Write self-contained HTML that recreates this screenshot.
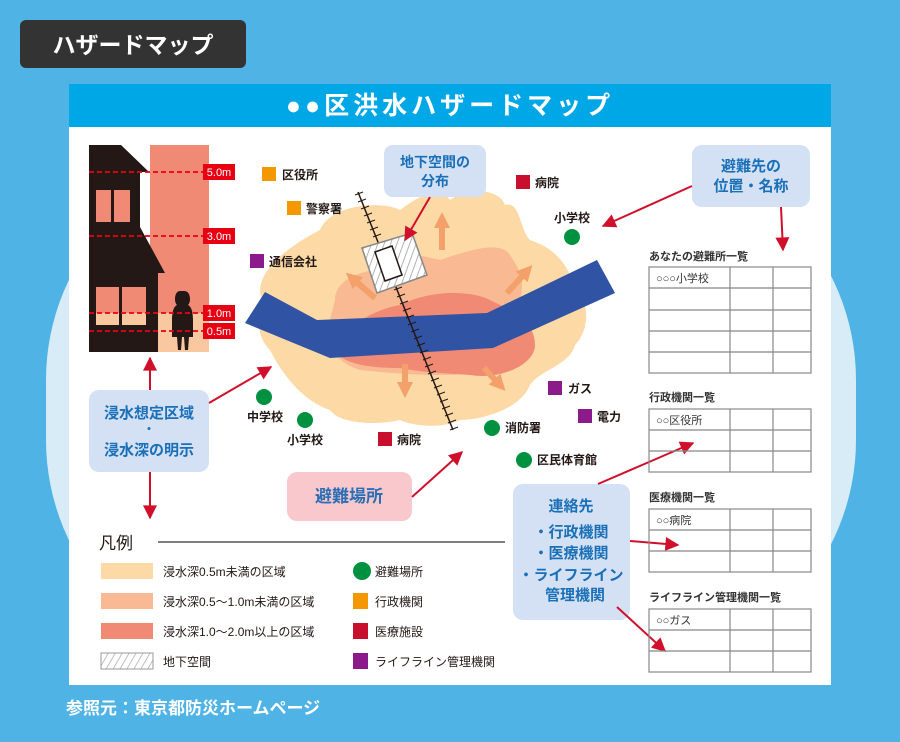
<!DOCTYPE html>
<html><head><meta charset="utf-8"><style>
html,body{margin:0;padding:0;}
body{width:900px;height:737px;overflow:hidden;background:#4fb3e6;font-family:"Liberation Sans","Noto Sans CJK JP",sans-serif;}
svg text{font-family:"Liberation Sans","Noto Sans CJK JP",sans-serif;}
</style></head><body>
<svg width="900" height="737" viewBox="0 0 900 737" xmlns="http://www.w3.org/2000/svg">
<defs>
<marker id="ar" markerWidth="8" markerHeight="8" refX="6" refY="4" orient="auto" markerUnits="userSpaceOnUse"><path d="M0,0 L8,4 L0,8 z" fill="#d0102b" transform="scale(1)"/></marker>
<marker id="ra" viewBox="0 0 10 10" markerWidth="16" markerHeight="14" refX="9" refY="5" orient="auto" markerUnits="userSpaceOnUse"><path d="M0,0 L10,5 L0,10 z" fill="#d0102b"/></marker>
<marker id="oa" viewBox="0 0 10 10" markerWidth="16" markerHeight="16" refX="5" refY="5" orient="auto" markerUnits="userSpaceOnUse"><path d="M0,0 L10,5 L0,10 z" fill="#f4a06a"/></marker>
<pattern id="hatch" width="6" height="6" patternUnits="userSpaceOnUse" patternTransform="rotate(20)"><rect width="6" height="6" fill="#fff"/><line x1="0" y1="0" x2="0" y2="6" stroke="#999" stroke-width="1.5"/></pattern>
<pattern id="hatch2" width="6" height="6" patternUnits="userSpaceOnUse" patternTransform="rotate(30)"><rect width="6" height="6" fill="#fff"/><line x1="0" y1="0" x2="0" y2="6" stroke="#aaa" stroke-width="1.5"/></pattern>
</defs>
<!-- pale background shape -->
<rect x="46" y="150" width="810" height="520" rx="230" fill="#d7ecf7"/>
<!-- tag -->
<rect x="20" y="20" width="226" height="48" rx="6" fill="#333"/>
<text x="133" y="53" font-size="23" font-weight="bold" fill="#fff" text-anchor="middle">ハザードマップ</text>
<!-- card -->
<rect x="69" y="84" width="762" height="601" fill="#fff"/>
<rect x="69" y="84" width="762" height="43" fill="#00a7e6"/>
<text x="450" y="114" font-size="25" font-weight="bold" fill="#fff" text-anchor="middle" letter-spacing="4">●●区洪水ハザードマップ</text>

<!-- house -->
<rect x="150" y="145" width="59" height="207" fill="#f08a74"/>
<rect x="158" y="313" width="51" height="39" fill="#f9c8a0"/>
<path d="M89,145 L121,145 L149,172 L140,172 L140,227 L165,273 L158,273 L158,352 L89,352 z" fill="#231815"/>
<rect x="96" y="190" width="15" height="32" fill="#f08a74"/><rect x="114" y="190" width="16" height="32" fill="#f08a74"/>
<rect x="96" y="287" width="23" height="26" fill="#f08a74"/><rect x="122" y="287" width="24" height="26" fill="#f08a74"/>
<rect x="96" y="313" width="23" height="12" fill="#f9c8a0"/><rect x="122" y="313" width="24" height="12" fill="#f9c8a0"/>
<path d="M180,291 c-4,0 -5,5 -5,8 c0,3 1,5 2,6 c-4,2 -5,8 -5,16 l0,16 l5,0 l1,13 l3,0 l1,-13 l2,0 l1,13 l3,0 l1,-13 l4,0 l0,-16 c0,-8 -1,-14 -5,-16 c1,-1 2,-3 2,-6 c0,-3 -1,-8 -6,-8z" fill="#231815"/>
<g stroke="#e60012" stroke-width="1.8" stroke-dasharray="5,3">
<line x1="89" y1="172" x2="204" y2="172"/><line x1="89" y1="236" x2="204" y2="236"/><line x1="89" y1="313" x2="204" y2="313"/><line x1="89" y1="331" x2="204" y2="331"/></g>
<g fill="#e60012"><rect x="203" y="164" width="32" height="16"/><rect x="203" y="228" width="32" height="16"/><rect x="203" y="305" width="32" height="16"/><rect x="203" y="323" width="32" height="16"/></g>
<g fill="#fff" font-size="11" text-anchor="middle"><text x="219" y="176">5.0m</text><text x="219" y="240">3.0m</text><text x="219" y="317">1.0m</text><text x="219" y="335">0.5m</text></g>

<!-- blob -->
<path d="M262,300 C250,270 300,240 320,230 C330,205 380,200 400,210 C420,195 440,185 450,200 C470,185 500,190 505,205 C520,200 520,230 530,240 C560,250 570,270 575,290 C590,300 590,330 575,345 C570,365 540,370 530,385 C520,410 480,420 460,420 C440,430 410,425 400,420 C380,425 340,425 330,410 C300,400 280,370 270,350 C255,335 258,315 262,300z" fill="#fdd9a6"/>
<path d="M335,300 C335,280 360,272 375,270 C400,250 420,255 440,260 C470,250 500,240 510,255 C520,270 525,280 520,300 C530,320 525,345 510,360 C480,375 460,375 440,375 C410,375 380,372 360,370 C330,360 325,340 330,320z" fill="#f8b993"/>
<path d="M330,345 C345,330 370,310 400,305 C430,290 470,290 490,300 C510,310 535,320 535,345 C535,365 500,380 470,375 C440,373 420,372 400,368 C370,368 340,365 330,345z" fill="#f08a74"/>
<!-- river -->
<path d="M245,323 L265,292 L317,320 L487,313 L597,260 L615,293 L493,348 L330,358 z" fill="#3153a4"/>
<!-- orange arrows -->
<g stroke="#f4a06a" stroke-width="6" marker-end="url(#oa)">
<line x1="442" y1="250" x2="442" y2="220"/><line x1="375" y1="298" x2="352" y2="278"/><line x1="507" y1="293" x2="527" y2="271"/><line x1="405" y1="364" x2="405" y2="390"/><line x1="484" y1="368" x2="500" y2="385"/></g>
<!-- railroad -->
<line x1="358" y1="192" x2="453" y2="430" stroke="#231815" stroke-width="1.5"/>
<g stroke="#231815" stroke-width="1">
<path id="ticks" d=""/>
</g>
<g stroke="#231815" stroke-width="1">
<line x1="355" y1="195" x2="363" y2="192"/><line x1="358" y1="202" x2="366" y2="199"/><line x1="361" y1="209" x2="369" y2="206"/><line x1="364" y1="216" x2="372" y2="213"/><line x1="367" y1="223" x2="375" y2="220"/><line x1="370" y1="230" x2="378" y2="227"/><line x1="373" y1="237" x2="381" y2="234"/>
<line x1="394" y1="290" x2="402" y2="287"/><line x1="397" y1="297" x2="405" y2="294"/><line x1="400" y1="304" x2="408" y2="301"/><line x1="403" y1="311" x2="411" y2="308"/><line x1="406" y1="318" x2="414" y2="315"/><line x1="408" y1="325" x2="416" y2="322"/><line x1="411" y1="332" x2="419" y2="329"/><line x1="414" y1="339" x2="422" y2="336"/><line x1="417" y1="346" x2="425" y2="343"/><line x1="420" y1="353" x2="428" y2="350"/><line x1="423" y1="360" x2="431" y2="357"/><line x1="425" y1="367" x2="433" y2="364"/><line x1="428" y1="374" x2="436" y2="371"/><line x1="431" y1="381" x2="439" y2="378"/><line x1="434" y1="388" x2="442" y2="385"/><line x1="437" y1="395" x2="445" y2="392"/><line x1="440" y1="402" x2="448" y2="399"/><line x1="442" y1="409" x2="450" y2="406"/><line x1="445" y1="416" x2="453" y2="413"/><line x1="448" y1="423" x2="456" y2="420"/><line x1="450" y1="430" x2="458" y2="427"/>
</g>
<polygon points="362,248 412,233 427,275 377,293" fill="url(#hatch)" stroke="#888" stroke-width="1.5"/>
<polygon points="375,252 392,246 402,275 385,281" fill="#fff" stroke="#231815" stroke-width="1.5"/>

<!-- markers -->
<g font-size="12" fill="#231815" font-weight="bold">
<rect x="262" y="167" width="14" height="14" fill="#f39800"/><text x="282" y="179">区役所</text>
<rect x="287" y="201" width="14" height="14" fill="#f39800"/><text x="306" y="213">警察署</text>
<rect x="250" y="254" width="14" height="14" fill="#8b1a8b"/><text x="269" y="266">通信会社</text>
<rect x="516" y="175" width="14" height="14" fill="#c8102e"/><text x="535" y="187">病院</text>
<text x="572" y="222" text-anchor="middle">小学校</text><circle cx="572" cy="237" r="8" fill="#009140"/>
<circle cx="264" cy="397" r="8" fill="#009140"/><text x="265" y="421" text-anchor="middle">中学校</text>
<circle cx="305" cy="420" r="8" fill="#009140"/><text x="305" y="444" text-anchor="middle">小学校</text>
<rect x="378" y="432" width="14" height="14" fill="#c8102e"/><text x="397" y="444">病院</text>
<circle cx="492" cy="428" r="8" fill="#009140"/><text x="505" y="432">消防署</text>
<rect x="548" y="381" width="14" height="14" fill="#8b1a8b"/><text x="568" y="393">ガス</text>
<rect x="578" y="409" width="14" height="14" fill="#8b1a8b"/><text x="597" y="421">電力</text>
<circle cx="524" cy="460" r="8" fill="#009140"/><text x="537" y="464">区民体育館</text>
</g>

<!-- bubbles -->
<g font-weight="bold" fill="#1a70b8" text-anchor="middle">
<rect x="384" y="145" width="102" height="52" rx="9" fill="#d4e0f3"/>
<text x="435" y="167" font-size="14">地下空間の</text><text x="435" y="186" font-size="14">分布</text>
<rect x="692" y="145" width="118" height="62" rx="10" fill="#d4e0f3"/>
<text x="751" y="171" font-size="15">避難先の</text><text x="751" y="191" font-size="15">位置・名称</text>
<rect x="89" y="390" width="120" height="82" rx="10" fill="#d4e0f3"/>
<text x="149" y="418" font-size="15">浸水想定区域</text><text x="149" y="433" font-size="12">・</text><text x="149" y="455" font-size="15">浸水深の明示</text>
<rect x="287" y="472" width="125" height="49" rx="10" fill="#f8c8cc"/>
<text x="349" y="502" font-size="17" fill="#2a6fb5">避難場所</text>
<rect x="513" y="484" width="117" height="136" rx="10" fill="#d4e0f3"/>
<text x="571" y="511" font-size="15">連絡先</text>
<text x="571" y="537" font-size="15">・行政機関</text>
<text x="571" y="558" font-size="15">・医療機関</text>
<text x="571" y="580" font-size="15">・ライフライン</text>
<text x="575" y="600" font-size="15">管理機関</text>
</g>

<!-- red arrows -->
<g stroke="#d0102b" stroke-width="2" marker-end="url(#ra)" fill="none">
<line x1="430" y1="197" x2="405" y2="240"/>
<line x1="692" y1="186" x2="603" y2="226"/>
<line x1="781" y1="207" x2="783" y2="250"/>
<line x1="150" y1="390" x2="150" y2="358"/>
<line x1="150" y1="472" x2="150" y2="518"/>
<line x1="209" y1="403" x2="271" y2="367"/>
<line x1="412" y1="497" x2="462" y2="452"/>
<line x1="598" y1="484" x2="693" y2="443"/>
<line x1="630" y1="541" x2="678" y2="545"/>
<line x1="617" y1="607" x2="665" y2="651"/>
</g>

<!-- tables -->
<g fill="none" stroke="#888" stroke-width="1.2">
<rect x="649" y="267" width="162" height="106"/>
<line x1="649" y1="288" x2="811" y2="288"/><line x1="649" y1="310" x2="811" y2="310"/><line x1="649" y1="331" x2="811" y2="331"/><line x1="649" y1="352" x2="811" y2="352"/>
<line x1="730" y1="267" x2="730" y2="373"/><line x1="773" y1="267" x2="773" y2="373"/>
<rect x="649" y="409" width="162" height="63"/>
<line x1="649" y1="430" x2="811" y2="430"/><line x1="649" y1="451" x2="811" y2="451"/>
<line x1="730" y1="409" x2="730" y2="472"/><line x1="773" y1="409" x2="773" y2="472"/>
<rect x="649" y="509" width="162" height="63"/>
<line x1="649" y1="530" x2="811" y2="530"/><line x1="649" y1="551" x2="811" y2="551"/>
<line x1="730" y1="509" x2="730" y2="572"/><line x1="773" y1="509" x2="773" y2="572"/>
<rect x="649" y="609" width="162" height="63"/>
<line x1="649" y1="630" x2="811" y2="630"/><line x1="649" y1="651" x2="811" y2="651"/>
<line x1="730" y1="609" x2="730" y2="672"/><line x1="773" y1="609" x2="773" y2="672"/>
</g>
<g font-size="11" fill="#333">
<text x="649" y="260" font-weight="bold">あなたの避難所一覧</text><text x="656" y="282">○○○小学校</text>
<text x="649" y="401" font-weight="bold">行政機関一覧</text><text x="656" y="424">○○区役所</text>
<text x="649" y="501" font-weight="bold">医療機関一覧</text><text x="656" y="524">○○病院</text>
<text x="649" y="601" font-weight="bold">ライフライン管理機関一覧</text><text x="656" y="624">○○ガス</text>
</g>

<!-- legend -->
<text x="99" y="549" font-size="17" fill="#231815">凡例</text>
<line x1="158" y1="542" x2="505" y2="542" stroke="#555" stroke-width="1.5"/>
<rect x="101" y="563" width="52" height="16" fill="#fdd9a6"/>
<rect x="101" y="593" width="52" height="16" fill="#f8b993"/>
<rect x="101" y="623" width="52" height="16" fill="#f08a74"/>
<rect x="101" y="653" width="52" height="16" fill="url(#hatch2)" stroke="#999"/>
<g font-size="12" fill="#231815">
<text x="163" y="576">浸水深0.5m未満の区域</text>
<text x="163" y="606">浸水深0.5〜1.0m未満の区域</text>
<text x="163" y="636">浸水深1.0〜2.0m以上の区域</text>
<text x="163" y="666">地下空間</text>
<circle cx="362" cy="571" r="9" fill="#009140"/><text x="375" y="576">避難場所</text>
<rect x="353" y="593" width="15" height="16" fill="#f39800"/><text x="375" y="606">行政機関</text>
<rect x="353" y="623" width="15" height="16" fill="#c8102e"/><text x="375" y="636">医療施設</text>
<rect x="353" y="653" width="15" height="16" fill="#8b1a8b"/><text x="375" y="666">ライフライン管理機関</text>
</g>
<text x="66" y="714" font-size="17" font-weight="bold" fill="#fff">参照元：東京都防災ホームページ</text>
</svg>
</body></html>
